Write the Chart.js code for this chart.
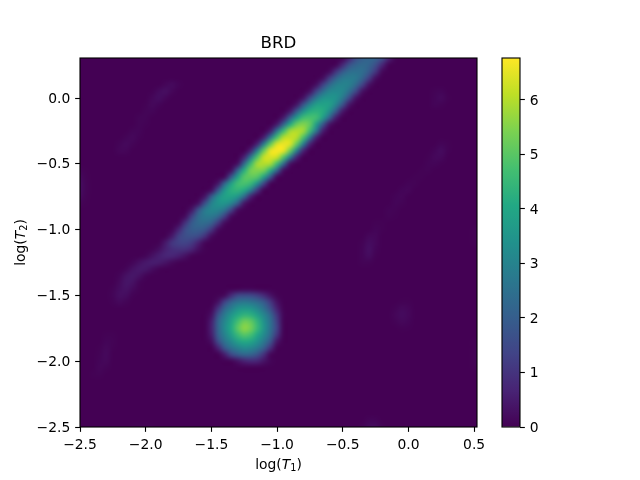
<!DOCTYPE html>
<html>
<head>
<meta charset="utf-8">
<title>BRD</title>
<script src="https://cdn.jsdelivr.net/npm/chart.js@4/dist/chart.umd.js"></script>
<style>
    html, body { margin: 0; padding: 0; background: #fff; }
    #wrap { position: relative; width: 640px; height: 480px; }
    canvas { position: absolute; left: 0; top: 0; }
</style>
</head>
<body>
<div id="wrap">
    <canvas id="heat" width="640" height="480"></canvas>
    <canvas id="colorbar" width="640" height="480"></canvas>
</div>
<script>
const titleText = 'BRD';
const xTicks = [-2.5, -2.0, -1.5, -1.0, -0.5, 0.0, 0.5];
const yTicks = [-2.5, -2.0, -1.5, -1.0, -0.5, 0.0];
const barTicks = [0, 1, 2, 3, 4, 5, 6];
const xRange = [-2.5, 0.522];
const yRange = [-2.5, 0.304];
const barRange = [0, 6.77];
const cellStep = 0.05;
const viridis = ['#440154', '#482475', '#414487', '#355f8d', '#2a788e', '#21918c', '#22a884', '#44bf70', '#7ad151', '#bddf26', '#fde725'];

// runs of density: [log T2, first log T1, values every 0.05]
const ridgeRuns = [
    [0.35, -0.5, [0.1, 0.7, 1.5, 1.9, 2.1, 2, 1.5, 0.6, 0.05]],
    [0.3, -0.5, [0.1, 0.75, 1.6, 2, 2.2, 2.05, 1.55, 0.6, 0.05]],
    [0.25, -0.55, [0.1, 0.8, 1.7, 2.15, 2.3, 2.15, 1.6, 0.7, 0.05]],
    [0.2, -0.6, [0.2, 1.05, 1.9, 2.4, 2.5, 2.4, 1.9, 1.05, 0.15]],
    [0.15, -0.65, [0.25, 1.2, 2.15, 2.7, 2.8, 2.7, 2.15, 1.2, 0.25]],
    [0.1, -0.7, [0.3, 1.3, 2.3, 2.9, 3, 2.9, 2.3, 1.3, 0.3]],
    [0.05, -0.75, [0.3, 1.4, 2.45, 3.1, 3.2, 3.1, 2.45, 1.4, 0.3]],
    [0, -0.8, [0.35, 1.5, 2.7, 3.4, 3.5, 3.4, 2.7, 1.5, 0.35]],
    [-0.05, -0.85, [0.4, 1.7, 3, 3.8, 3.9, 3.8, 3, 1.7, 0.4]],
    [-0.1, -0.9, [0.45, 1.85, 3.3, 4.15, 4.3, 4.15, 3.3, 1.85, 0.45]],
    [-0.15, -0.95, [0.5, 2.05, 3.7, 4.65, 4.8, 4.65, 3.7, 2.05, 0.5]],
    [-0.2, -1.0, [0.5, 2.1, 4.1, 5.2, 5.5, 5.1, 3.7, 1.8, 0.35]],
    [-0.25, -1.05, [0.55, 2.6, 4.6, 5.8, 6, 5.8, 4.6, 2.6, 0.55]],
    [-0.3, -1.1, [0.6, 2.65, 4.8, 6, 6.2, 6, 4.8, 2.65, 0.6]],
    [-0.35, -1.15, [0.65, 2.85, 5.1, 6.4, 6.6, 6.4, 5.1, 2.85, 0.65]],
    [-0.4, -1.2, [0.68, 2.9, 5.2, 6.55, 6.75, 6.55, 5.2, 2.9, 0.68]],
    [-0.45, -1.25, [0.65, 2.75, 4.9, 6.2, 6.4, 6.2, 4.9, 2.75, 0.65]],
    [-0.5, -1.3, [0.3, 2.3, 4.6, 5.85, 6, 5.85, 4.6, 2.3, 0.3]],
    [-0.55, -1.35, [0.25, 2.1, 4.2, 5.35, 5.5, 5.35, 4.2, 2.1, 0.25]],
    [-0.6, -1.4, [0.15, 1.8, 3.8, 4.95, 5.1, 4.95, 3.8, 1.8, 0.15]],
    [-0.65, -1.45, [0.4, 2.1, 3.8, 4.65, 4.8, 4.5, 3.3, 1.35, 0.1]],
    [-0.7, -1.5, [0.25, 1.75, 3.5, 4.25, 4.4, 4.1, 2.9, 1.1, 0.05]],
    [-0.75, -1.55, [0.4, 1.95, 3.3, 3.85, 3.9, 3.5, 2.25, 0.6, 0.02]],
    [-0.8, -1.6, [0.3, 1.6, 2.95, 3.45, 3.5, 3.1, 1.95, 0.4, 0.02]],
    [-0.85, -1.65, [0.4, 1.7, 2.75, 3.1, 3.05, 2.6, 1.4, 0.25, 0.02]],
    [-0.9, -1.7, [0.2, 1.25, 2.3, 2.7, 2.7, 2.3, 1.25, 0.2]],
    [-0.95, -1.75, [0.12, 0.95, 1.9, 2.3, 2.35, 2.05, 1.1, 0.2]],
    [-1.0, -1.8, [0.08, 0.65, 1.55, 1.95, 2, 1.8, 1.05, 0.2]],
    [-1.05, -1.85, [0.03, 0.45, 1.25, 1.6, 1.65, 1.5, 0.95, 0.2]],
    [-1.1, -1.9, [0.03, 0.45, 1.05, 1.3, 1.35, 1.15, 0.6, 0.1]],
    [-1.15, -1.95, [0.05, 0.25, 0.6, 0.85, 0.95, 0.9, 0.65, 0.25, 0.03]],
    [-1.2, -2.0, [0.08, 0.3, 0.55, 0.7, 0.7, 0.55, 0.3, 0.05]],
    [-1.25, -2.1, [0.08, 0.28, 0.45, 0.55, 0.5, 0.35, 0.15, 0.03]],
    [-1.3, -2.15, [0.08, 0.3, 0.45, 0.42, 0.22, 0.05]],
    [-1.35, -2.2, [0.08, 0.3, 0.42, 0.3, 0.08]],
    [-1.4, -2.2, [0.15, 0.38, 0.33, 0.08]],
    [-1.45, -2.25, [0.05, 0.22, 0.33, 0.18, 0.03]],
    [-1.5, -2.25, [0.08, 0.26, 0.22, 0.04]],
    [-1.55, -2.25, [0.04, 0.14, 0.07]]
];
const blobRuns = [
    [-1.45, -1.3, [0.03, 0.08, 0.08, 0.03]],
    [-1.5, -1.45, [0.03, 0.15, 0.8, 1.4, 1.5, 1.45, 1.2, 0.8, 0.35, 0.05]],
    [-1.55, -1.45, [0.3, 1.3, 2.1, 2.55, 2.7, 2.6, 2.35, 1.9, 1.1, 0.3]],
    [-1.6, -1.5, [0.1, 1, 2.2, 2.85, 3.4, 3.6, 3.5, 3.1, 2.5, 1.6, 0.6, 0.03]],
    [-1.65, -1.5, [0.3, 1.7, 2.75, 3.5, 4.1, 4.4, 4.3, 3.8, 3.1, 2.25, 1, 0.08]],
    [-1.7, -1.5, [0.55, 2.1, 3.1, 3.9, 4.7, 5.3, 5.1, 4.4, 3.4, 2.5, 1.2, 0.05]],
    [-1.75, -1.5, [0.6, 2.1, 3.2, 4.05, 5, 5.6, 5.3, 4.5, 3.5, 2.5, 1.3, 0.05]],
    [-1.8, -1.5, [0.5, 2, 2.95, 3.75, 4.5, 4.95, 4.7, 4, 3.2, 2.3, 1, 0.03]],
    [-1.85, -1.5, [0.25, 1.5, 2.55, 3.15, 3.8, 4.1, 3.95, 3.4, 2.7, 1.75, 0.4]],
    [-1.9, -1.45, [0.6, 1.8, 2.5, 2.9, 3.2, 3.1, 2.7, 2, 0.9, 0.05]],
    [-1.95, -1.4, [0.5, 1.4, 1.9, 2.2, 2.1, 1.7, 0.9, 0.1]],
    [-2.0, -1.35, [0.05, 0.3, 0.6, 0.75, 0.65, 0.35, 0.08]]
];
const faintRuns = [
    [0.1, -1.85, [0.1, 0.18, 0.06]],
    [0.05, -1.95, [0.02, 0.18, 0.27, 0.1]],
    [0, -1.95, [0.12, 0.24, 0.1]],
    [-0.05, -2.0, [0.03, 0.15, 0.08]],
    [-0.1, -2.0, [0.07, 0.08]],
    [-0.15, -2.05, [0.07, 0.07]],
    [-0.2, -2.05, [0.07, 0.04]],
    [-0.25, -2.1, [0.07, 0.08]],
    [-0.3, -2.15, [0.07, 0.14, 0.04]],
    [-0.35, -2.2, [0.07, 0.16, 0.07]],
    [-0.4, -2.2, [0.1, 0.1]],
    [-0.55, -2.5, [0.06, 0.01]],
    [-0.6, -2.5, [0.14, 0.03]],
    [-0.65, -2.5, [0.22, 0.05]],
    [-0.7, -2.5, [0.22, 0.05]],
    [-0.75, -2.5, [0.16, 0.03]],
    [-0.8, -2.5, [0.05, 0.01]],
    [0.05, 0.2, [0.05, 0.08]],
    [0, 0.2, [0.08, 0.16, 0.03]],
    [-0.05, 0.2, [0.08, 0.05]],
    [-0.35, 0.25, [0.08, 0.03]],
    [-0.4, 0.2, [0.08, 0.2, 0.04]],
    [-0.45, 0.15, [0.03, 0.14, 0.14]],
    [-0.5, 0.15, [0.06, 0.08, 0.02]],
    [-0.55, 0.1, [0.03, 0.05]],
    [-0.6, 0.05, [0.03, 0.03]],
    [-0.65, 0, [0.06, 0.05]],
    [-0.7, -0.05, [0.08, 0.1]],
    [-0.75, -0.1, [0.06, 0.1]],
    [-0.8, -0.1, [0.08, 0.05]],
    [-0.85, -0.15, [0.06, 0.05]],
    [-0.9, -0.15, [0.05, 0.02]],
    [-0.95, -0.25, [0.03, 0.03]],
    [-1.0, -0.25, [0.08, 0.03]],
    [-1.05, -0.3, [0.12, 0.12]],
    [-1.1, -0.35, [0.05, 0.22, 0.12]],
    [-1.15, -0.35, [0.08, 0.28, 0.08]],
    [-1.2, -0.35, [0.08, 0.22, 0.03]],
    [-1.25, -0.35, [0.05, 0.05]],
    [-1.55, -0.05, [0.03, 0.03]],
    [-1.6, -0.1, [0.05, 0.15, 0.1]],
    [-1.65, -0.1, [0.1, 0.2, 0.12]],
    [-1.7, -0.1, [0.05, 0.13, 0.08]],
    [-1.75, -0.05, [0.03, 0.02]],
    [-2.5, -0.35, [0.05, 0.18, 0.2, 0.05]],
    [-2.45, -0.3, [0.08, 0.08]],
    [-1.8, -2.3, [0.03, 0.03]],
    [-1.85, -2.3, [0.08, 0.05]],
    [-1.9, -2.35, [0.03, 0.13, 0.03]],
    [-1.95, -2.35, [0.05, 0.16]],
    [-2.0, -2.35, [0.08, 0.13]],
    [-2.05, -2.35, [0.1, 0.05]],
    [-2.1, -2.4, [0.03, 0.05]],
    [-1.85, 0.5, [0.03, 0.05]],
    [-1.9, 0.5, [0.03, 0.13]],
    [-1.95, 0.5, [0.05, 0.18]],
    [-2.0, 0.5, [0.05, 0.16]],
    [-2.05, 0.5, [0.03, 0.05]],
    [-1.0, 0.5, [0.03, 0.08]],
    [-1.05, 0.5, [0.03, 0.1]],
    [-1.1, 0.5, [0.03, 0.08]],
    [-2.5, -2.1, [0.03, 0.05, 0.05, 0.03]]
];

const FONT = '"DejaVu Sans", sans-serif';
const TICK_SIZE = 13.89;

function viridisRgb(v) {
    const t = Math.min(Math.max((v - barRange[0]) / (barRange[1] - barRange[0]), 0), 1) * (viridis.length - 1);
    const i = Math.min(Math.floor(t), viridis.length - 2);
    const a = parseInt(viridis[i].slice(1), 16);
    const b = parseInt(viridis[i + 1].slice(1), 16);
    const f = t - i;
    return [16, 8, 0].map(s => Math.round(((a >> s) & 255) * (1 - f) + ((b >> s) & 255) * f));
}

function runsToPoints(runs) {
    const points = [];
    runs.forEach(([t2, t1, values]) => {
        values.forEach((v, k) => {
            points.push({ x: Math.round((t1 + k * cellStep) * 100) / 100, y: t2, v: v });
        });
    });
    return points;
}

function tickLabel(v) {
    return v.toFixed(1).replace('-', '\u2212');
}

// paints the dataset's cells on a small image, then stretches it over the scales
const heatPlugin = {
    id: 'heat',
    beforeDatasetsDraw(chart) {
        const { ctx, chartArea, scales } = chart;
        const x0 = xRange[0], y1 = 0.35;
        const cols = 62, rows = 58;
        const off = document.createElement('canvas');
        off.width = cols;
        off.height = rows;
        const octx = off.getContext('2d');
        octx.fillStyle = viridis[0];
        octx.fillRect(0, 0, cols, rows);
        chart.data.datasets[0].data.forEach(p => {
            const c = Math.round((p.x - x0) / cellStep);
            const r = Math.round((y1 - p.y) / cellStep);
            const rgb = viridisRgb(p.v);
            octx.fillStyle = `rgb(${rgb[0]},${rgb[1]},${rgb[2]})`;
            octx.fillRect(c, r, 1, 1);
        });
        const left = scales.x.getPixelForValue(x0 - cellStep / 2);
        const right = scales.x.getPixelForValue(x0 + (cols - 0.5) * cellStep);
        const top = scales.y.getPixelForValue(y1 + cellStep / 2);
        const bottom = scales.y.getPixelForValue(y1 - (rows - 0.5) * cellStep);
        ctx.save();
        ctx.beginPath();
        ctx.rect(chartArea.left, chartArea.top, chartArea.width, chartArea.height);
        ctx.clip();
        ctx.imageSmoothingEnabled = true;
        ctx.imageSmoothingQuality = 'high';
        ctx.drawImage(off, left, top, right - left, bottom - top);
        ctx.restore();
    }
};

const framePlugin = {
    id: 'frame',
    afterDraw(chart) {
        const { ctx, chartArea } = chart;
        ctx.save();
        ctx.strokeStyle = '#000';
        ctx.lineWidth = 1.11;
        ctx.strokeRect(chartArea.left, chartArea.top, chartArea.width, chartArea.height);
        ctx.restore();
    }
};

// log(T_n) with italic T and a lowered index, like the mathtext in the picture
function drawLogLabel(ctx, index, cx, cy, rotated) {
    const parts = [
        { text: 'log(', font: `${TICK_SIZE}px ${FONT}`, dy: 0 },
        { text: 'T', font: `italic ${TICK_SIZE}px ${FONT}`, dy: 0 },
        { text: index, font: `9.7px ${FONT}`, dy: 2.1 },
        { text: ')', font: `${TICK_SIZE}px ${FONT}`, dy: 0 }
    ];
    let width = 0;
    parts.forEach(p => {
        ctx.font = p.font;
        p.width = ctx.measureText(p.text).width;
        width += p.width;
    });
    ctx.save();
    ctx.translate(cx, cy);
    if (rotated) ctx.rotate(-Math.PI / 2);
    ctx.fillStyle = '#000';
    ctx.textBaseline = 'alphabetic';
    ctx.textAlign = 'left';
    let pos = -width / 2;
    parts.forEach(p => {
        ctx.font = p.font;
        ctx.fillText(p.text, pos, p.dy);
        pos += p.width;
    });
    ctx.restore();
}

const axisLabelPlugin = {
    id: 'axisLabels',
    afterDraw(chart) {
        const { ctx, chartArea } = chart;
        drawLogLabel(ctx, '1', (chartArea.left + chartArea.right) / 2, chartArea.bottom + 42, false);
        drawLogLabel(ctx, '2', chartArea.left - 55, (chartArea.top + chartArea.bottom) / 2, true);
    }
};

function axisCommon(ticks, range) {
    return {
        type: 'linear',
        min: range[0],
        max: range[1],
        border: { display: false },
        grid: { display: true, drawOnChartArea: false, drawTicks: true, tickLength: 4.86, tickWidth: 1.11, tickColor: '#000' },
        afterBuildTicks: scale => { scale.ticks = ticks.map(v => ({ value: v })); },
        ticks: {
            color: '#000',
            padding: 4.86,
            autoSkip: false,
            maxRotation: 0,
            font: { family: FONT, size: TICK_SIZE },
            callback: tickLabel
        }
    };
}

// vertical axes: a blank first line with a tiny line height nudges the label 1px down
function nudgeVerticalLabels(axis, format) {
    axis.ticks.font = { family: FONT, size: TICK_SIZE, lineHeight: 0.14 };
    axis.ticks.callback = v => ['', format(v)];
}

const xAxis = axisCommon(xTicks, xRange);
xAxis.afterFit = scale => { scale.height = 53; };
const yAxis = axisCommon(yTicks, yRange);
nudgeVerticalLabels(yAxis, tickLabel);
yAxis.afterFit = scale => { scale.width = 80; };

new Chart(document.getElementById('heat'), {
    type: 'scatter',
    data: {
        datasets: [{
            label: titleText,
            data: runsToPoints(ridgeRuns).concat(runsToPoints(blobRuns), runsToPoints(faintRuns)),
            pointRadius: 0,
            pointHoverRadius: 0
        }]
    },
    options: {
        responsive: false,
        animation: false,
        events: [],
        layout: { padding: { left: 0, right: 163, top: 0, bottom: 0 } },
        scales: { x: xAxis, y: yAxis },
        plugins: {
            legend: { display: false },
            tooltip: { enabled: false },
            title: {
                display: true,
                text: titleText,
                fullSize: false,
                color: '#000',
                font: { family: FONT, size: 16.67, weight: 'normal', lineHeight: 1.2 },
                padding: { top: 33.5, bottom: 4.5 }
            }
        }
    },
    plugins: [heatPlugin, framePlugin, axisLabelPlugin]
});

const barAxis = axisCommon(barTicks, barRange);
barAxis.position = 'right';
nudgeVerticalLabels(barAxis, v => String(v));
barAxis.afterFit = scale => { scale.width = 120; };

new Chart(document.getElementById('colorbar'), {
    type: 'bar',
    data: {
        labels: ['density'],
        datasets: [{
            data: [barRange],
            barPercentage: 1,
            categoryPercentage: 1,
            borderWidth: 0,
            backgroundColor: context => {
                const { ctx, chartArea } = context.chart;
                if (!chartArea) return viridis[0];
                const g = ctx.createLinearGradient(0, chartArea.bottom, 0, chartArea.top);
                viridis.forEach((c, i) => g.addColorStop(i / (viridis.length - 1), c));
                return g;
            }
        }]
    },
    options: {
        responsive: false,
        animation: false,
        events: [],
        layout: { padding: { left: 502, right: 0, top: 58, bottom: 53 } },
        scales: {
            x: { display: false },
            y: barAxis
        },
        plugins: {
            legend: { display: false },
            tooltip: { enabled: false }
        }
    },
    plugins: [framePlugin]
});
</script>
</body>
</html>
